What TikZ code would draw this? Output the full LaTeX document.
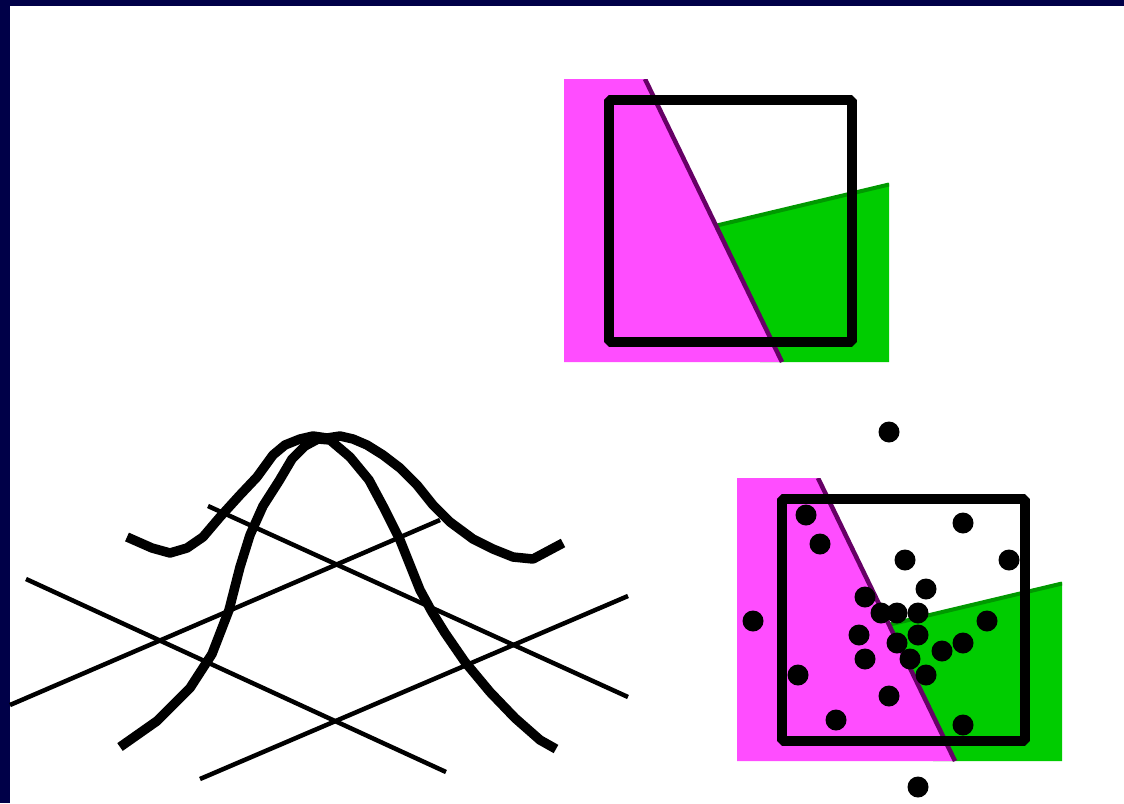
\documentclass[tikz,border=0pt]{standalone}
\usepackage{xcolor}
\usepackage{tikz}
\definecolor{navy}{RGB}{0,0,72}
\definecolor{fuchsia}{RGB}{255,77,255}
\definecolor{leafgreen}{RGB}{0,204,0}
\definecolor{darkleaf}{RGB}{0,153,0}
\definecolor{plum}{RGB}{102,0,102}

\begin{document}
\begin{tikzpicture}[x=1pt, y=-1pt]
    \tikzset{bell/.style={line width=9.5pt, line join=round},
             grid/.style={line width=4.5pt}}
    \useasboundingbox (0,0) rectangle (1124,803);
    \fill[white] (0,0) rectangle (1124,803);
    \fill[navy] (0,0) rectangle (1124,6);
    \fill[navy] (0,0) rectangle (10,803);

    % classified regions with the window, twice
    \foreach \dx/\dy in {0/0, 173/399} {
      \begin{scope}[shift={(\dx,\dy)}]
        \begin{scope}
          \clip (564,79) rectangle (889,362);
          \fill[leafgreen] (700,228.5) -- (889,183) -- (889,362) -- (760,362) -- cycle;
          \draw[darkleaf, line width=4pt] (700,229.5) -- (889,184.5);
          \fill[fuchsia] (564,79) -- (645,79) -- (782,362) -- (564,362) -- cycle;
          \draw[plum, line width=4.5pt] (645,79) -- (782,362);
        \end{scope}
        \draw[line width=10pt, line join=bevel] (609,99.5) rectangle (852,342);
      \end{scope}
    }

    % samples
    \foreach \x/\y in {889/432, 806/515, 820/544, 963/523, 905/560, 1009/560,
                       926/589, 865/597, 881/613, 897/613, 918/613, 753/621,
                       987/621, 859/635, 918/635, 897/643, 963/643, 942/651,
                       865/659, 910/659, 798/675, 926/675, 889/696, 836/720,
                       963/725, 918/787}
      \fill[black] (\x,\y) circle (10.5pt);

    % grid lines
    \draw[grid] (26,579) -- (446,772);
    \draw[grid] (10,705) -- (440,520);
    \draw[grid] (208,506) -- (628,697);
    \draw[grid] (200,779) -- (628,596);

    % bell curves
    \draw[bell] (127,537) -- (152,548) -- (170,553) -- (187,548) -- (203,537)
      -- (220,517) -- (240,495) -- (257,477) -- (273,455) -- (285,445)
      -- (300,439) -- (313,436) -- (327,438) -- (340,436) -- (353,439)
      -- (367,445) -- (383,455) -- (400,468) -- (417,485) -- (433,505)
      -- (450,522) -- (473,539) -- (493,549) -- (513,557) -- (533,559)
      -- (563,543);
    \draw[bell] (120,747) -- (157,721) -- (190,688) -- (212,654) -- (229,610)
      -- (240,567) -- (250,535) -- (263,506) -- (279,481) -- (292,459)
      -- (305,446) -- (318,439) -- (330,440) -- (350,457) -- (369,480)
      -- (384,508) -- (400,540) -- (410,565) -- (420,590) -- (432,612)
      -- (445,633) -- (465,662) -- (490,692) -- (515,718) -- (540,740)
      -- (556,749);
\end{tikzpicture}
\end{document}
